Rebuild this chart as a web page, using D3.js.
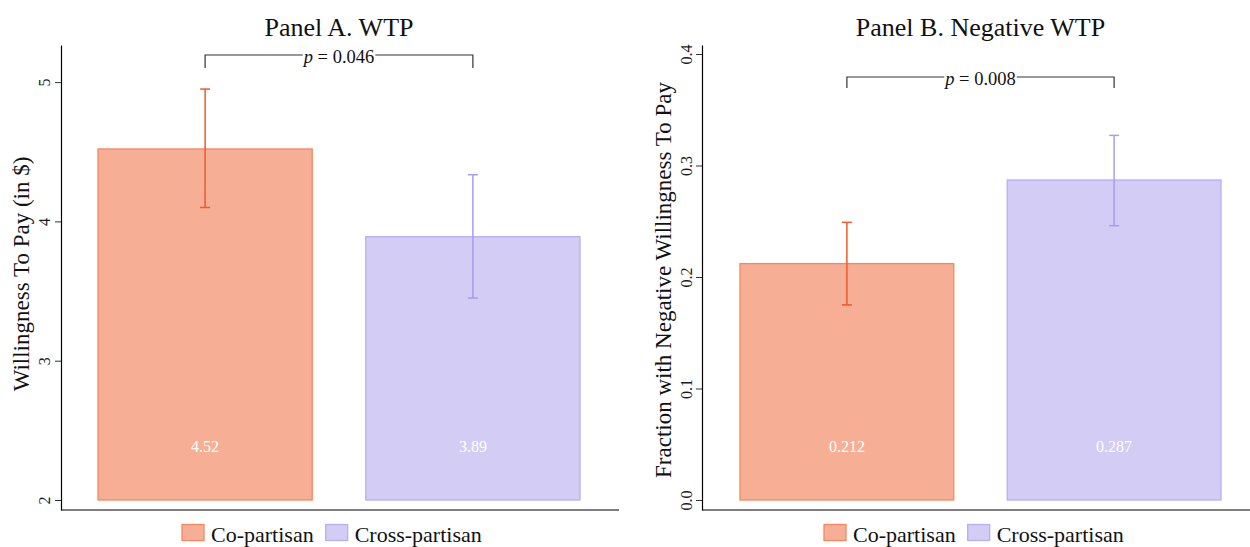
<!DOCTYPE html>
<html><head><meta charset="utf-8">
<script src="https://cdn.jsdelivr.net/npm/d3@7"></script>
<style>body{margin:0;background:#fff} svg text{font-family:'Liberation Serif','DejaVu Serif',serif}</style>
</head><body><svg id="c" width="1250" height="547" font-family="Liberation Serif, DejaVu Serif, serif"></svg>
<script>
const categories = ["Co-partisan", "Cross-partisan"];
const wtpValues = [4.52, 3.89];
const wtpLow = [4.10, 3.45];
const wtpHigh = [4.95, 4.335];
const wtpLabels = ["4.52", "3.89"];
const wtpTicks = [2, 3, 4, 5];
const negValues = [0.212, 0.287];
const negLow = [0.175, 0.246];
const negHigh = [0.249, 0.327];
const negLabels = ["0.212", "0.287"];
const negTicks = [0, 0.1, 0.2, 0.3, 0.4];
const pA = "0.046", pB = "0.008";

const fills = ["#F6AF95", "#D3CCF5"];
const strokes = ["#F4875F", "#B9AEF2"];
const errCol = ["#F0592A", "#A99CEE"];

const svg = d3.select("#c");

function panel(o){
  const g = svg.append("g");
  const y = d3.scaleLinear().domain(o.domain).range([o.bottom, o.top]);
  const x = d3.scaleBand().domain(categories).range([o.bx0, o.bx1]).paddingInner(0.2).paddingOuter(0);
  const ya = d3.axisLeft(y).tickValues(o.ticks).tickFormat(o.fmt).tickSize(6).tickSizeOuter(0);
  const yg = g.append("g").attr("transform",`translate(${o.x0},0)`).call(ya).attr("font-family",null);
  yg.select(".domain").attr("stroke","#000").attr("stroke-width",1.2);
  yg.selectAll(".tick line").attr("stroke","#333");
  yg.selectAll(".tick text").attr("font-size",16).attr("fill","#1a1a1a")
    .attr("transform",`translate(${o.tickOff},0) rotate(-90)`).attr("x",0).attr("dy","0").attr("text-anchor","middle").attr("y",0);
  g.append("line").attr("x1",o.x0).attr("x2",o.x1).attr("y1",o.bottom).attr("y2",o.bottom).attr("stroke","#000").attr("stroke-width",1.2);
  g.selectAll("rect.bar").data(o.values).join("rect").attr("class","bar")
    .attr("x",(d,i)=>x(categories[i])).attr("width",x.bandwidth())
    .attr("y",d=>y(d)).attr("height",d=>y(o.base)-y(d))
    .attr("fill",(d,i)=>fills[i]).attr("stroke",(d,i)=>strokes[i]).attr("stroke-width",1.3);
  g.selectAll("text.val").data(o.labels).join("text").attr("class","val")
    .attr("x",(d,i)=>x(categories[i])+x.bandwidth()/2).attr("y",o.labY)
    .attr("text-anchor","middle").attr("fill","#fff").attr("font-size",16).text(d=>d);
  o.values.forEach((v,i)=>{
    const cx = x(categories[i])+x.bandwidth()/2;
    const eg = g.append("g").attr("stroke",errCol[i]).attr("stroke-width",1.5);
    eg.append("line").attr("x1",cx).attr("x2",cx).attr("y1",y(o.low[i])).attr("y2",y(o.high[i]));
    [o.low[i],o.high[i]].forEach(e=>eg.append("line").attr("x1",cx-5).attr("x2",cx+5).attr("y1",y(e)).attr("y2",y(e)));
  });
  const bx1 = x(categories[0])+x.bandwidth()/2, bx2 = x(categories[1])+x.bandwidth()/2, mid=(bx1+bx2)/2;
  const t = g.append("text").attr("x",mid).attr("y",o.brY+8).attr("text-anchor","middle").attr("font-size",18.5).attr("fill","#111");
  t.append("tspan").attr("font-style","italic").text("p");
  t.append("tspan").text(" = "+o.p);
  const tw = t.node().getComputedTextLength();
  const bs = g.append("g").attr("stroke","#333").attr("stroke-width",1.2).attr("fill","none");
  bs.append("path").attr("d",`M${bx1},${o.brY+o.brTick}V${o.brY}H${mid-tw/2-1}`);
  bs.append("path").attr("d",`M${mid+tw/2+1},${o.brY}H${bx2}V${o.brY+o.brTick}`);
  g.append("text").attr("x",mid).attr("y",36).attr("text-anchor","middle").attr("font-size",26).attr("fill","#111").text(o.title);
  g.append("text").attr("transform",`translate(${o.ylx},${o.yly}) rotate(-90)`).attr("text-anchor","middle").attr("font-size",23).attr("fill","#111").text(o.ylab);
  let lx = o.legX;
  categories.forEach((c,i)=>{
    g.append("rect").attr("x",lx).attr("y",524.5).attr("width",22).attr("height",16).attr("fill",fills[i]).attr("stroke",strokes[i]).attr("stroke-width",1.3);
    const tt = g.append("text").attr("x",lx+29).attr("y",541.5).attr("font-size",22).attr("fill","#111").text(c);
    lx += 29 + tt.node().getComputedTextLength() + 12;
  });
}

panel({domain:[2-10/139.3, 2+455/139.3], top:45, bottom:510, base:2, x0:61, x1:619, bx0:98, bx1:580, tickOff:-11,
  values:wtpValues, low:wtpLow, high:wtpHigh, labels:wtpLabels, ticks:wtpTicks, fmt:d3.format("d"),
  labY:452, brY:55, brTick:13, p:pA, title:"Panel A. WTP", ylab:"Willingness To Pay (in $)", ylx:29, yly:274, legX:182});
panel({domain:[-10/1115, 455/1115], top:45, bottom:510, base:0, x0:702, x1:1250, bx0:740, bx1:1221, tickOff:-10,
  values:negValues, low:negLow, high:negHigh, labels:negLabels, ticks:negTicks, fmt:d3.format(".1f"),
  labY:452, brY:77, brTick:11, p:pB, title:"Panel B. Negative WTP", ylab:"Fraction with Negative Willingness To Pay", ylx:671, yly:280, legX:824});
</script></body></html>
